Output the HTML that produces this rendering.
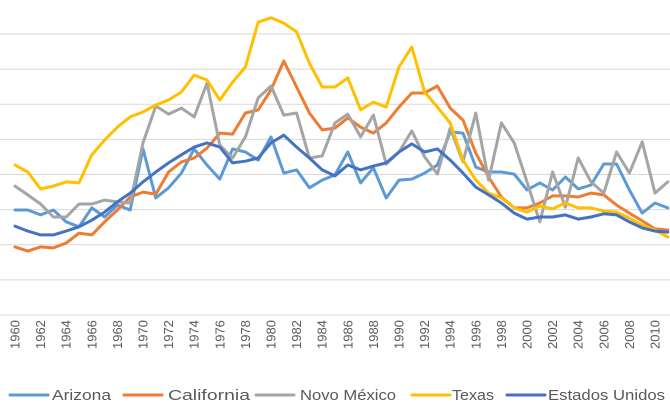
<!DOCTYPE html>
<html><head><meta charset="utf-8"><style>
html,body{margin:0;padding:0;background:#fff;}
svg{display:block;font-family:"Liberation Sans",Arial,sans-serif;}
</style></head><body>
<svg id="chart" width="670" height="404" viewBox="0 0 670 404" xmlns="http://www.w3.org/2000/svg">
<g id="grid"></g>
<g id="xlabels"></g>
<g id="series"></g>
<g id="legend"></g>
</svg>
<script>
const startYear = 1960;
const endYear = 2011;
const seriesNames = ["Arizona","California","Novo México","Texas","Estados Unidos"];
const seriesColors = ["#5b9bd5","#ed7d31","#a5a5a5","#ffc000","#4472c4"];
const arizona = [29.9,29.9,28.5,29.9,26.5,25.1,30.5,27.9,31.3,29.9,47.3,33.3,36.2,40.4,47.3,42.7,38.7,47.3,46.4,44.1,50.7,40.4,41.3,36.2,38.4,39.9,46.4,37.6,41.9,33.3,38.4,38.7,40.4,42.7,52.1,51.8,42.1,40.7,40.7,40.1,35.6,37.6,35.6,39.3,35.9,37.0,43.0,43.0,35.6,29.0,31.9,30.5];
const california = [19.4,18.2,19.4,19.1,20.5,23.3,22.8,26.5,29.9,33.6,35.0,34.4,40.7,43.6,44.7,47.5,51.8,51.5,57.5,58.4,64.1,72.3,64.9,57.5,52.7,53.2,56.1,53.5,51.8,54.7,59.2,63.2,63.2,65.2,58.9,55.5,46.1,39.3,33.6,30.5,30.5,31.9,33.9,33.9,33.6,34.7,34.2,31.3,29.0,26.8,24.5,24.2];
const novoMexico = [36.7,34.2,31.6,27.9,27.9,31.6,31.6,32.7,32.2,31.9,49.0,59.5,57.2,58.9,56.4,66.0,48.4,44.7,50.7,61.8,65.2,56.9,57.5,44.7,45.3,54.7,57.2,50.7,56.9,43.0,46.4,52.4,45.0,40.1,53.2,43.6,57.5,38.4,54.7,49.0,37.9,26.5,40.7,30.7,44.7,37.9,34.7,46.4,40.4,49.3,34.7,37.9];
const texas = [42.7,40.7,35.9,36.7,37.9,37.6,45.6,49.8,53.5,56.4,57.8,59.8,61.2,63.5,68.3,66.9,61.2,66.3,70.6,83.4,84.6,83.1,80.6,71.7,64.9,64.9,67.5,58.4,60.6,59.2,70.6,76.3,63.5,59.2,54.7,44.1,38.4,34.7,33.3,30.5,29.3,31.0,30.2,31.9,30.5,30.5,29.6,29.3,27.6,25.6,24.2,22.2];
const estadosUnidos = [25.3,23.9,22.8,22.8,23.9,25.1,27.0,29.3,32.2,34.7,37.9,40.7,43.3,45.6,47.8,49.0,47.8,43.3,43.8,44.7,49.0,51.2,47.8,44.7,41.3,39.6,42.7,41.3,42.4,43.3,46.4,48.7,46.4,47.3,44.1,40.4,36.4,34.2,31.9,29.0,27.3,27.9,27.9,28.5,27.3,27.9,28.8,28.5,26.5,24.8,23.9,23.6];
const gridValues = [0,10,20,30,40,50,60,70,80];

const NS = "http://www.w3.org/2000/svg";
const yMin = 0, yMax = 80, yBottom = 315, yTop = 34;
const xLeft = 15, xStep = 12.8;
function xScale(i){ return xLeft + xStep * i; }
function yScale(v){ return yBottom - (v - yMin) / (yMax - yMin) * (yBottom - yTop); }

const grid = document.getElementById('grid');
gridValues.forEach(v => {
  const l = document.createElementNS(NS,'line');
  
  
  l.setAttribute('x1', 0); l.setAttribute('x2', 670);
  l.setAttribute('y1', yScale(v)); l.setAttribute('y2', yScale(v));
  l.setAttribute('stroke', '#d9d9d9'); l.setAttribute('stroke-width', 1);
  grid.appendChild(l);
});

const xl = document.getElementById('xlabels');
for (let yr = startYear; yr <= endYear; yr += 2) {
  const i = yr - startYear;
  const t = document.createElementNS(NS,'text');
  
  
  const x = xScale(i) + 4.5, y = 349;
  t.setAttribute('x', x); t.setAttribute('y', y);
  t.setAttribute('transform', 'rotate(-90 ' + x + ' ' + y + ')');
  t.setAttribute('font-size', '13');
  t.setAttribute('fill', '#595959');
  t.textContent = String(yr);
  xl.appendChild(t);
}

const allSeries = [arizona, california, novoMexico, texas, estadosUnidos];
const seriesKeys = ['arizona','california','novo-mexico','texas','estados-unidos'];
const sg = document.getElementById('series');
allSeries.forEach((data, s) => {
  const p = document.createElementNS(NS,'polyline');
  
  
  p.setAttribute('points', data.map((v,i) => xScale(i).toFixed(1) + ',' + yScale(v).toFixed(1)).join(' '));
  p.setAttribute('fill', 'none');
  p.setAttribute('stroke', seriesColors[s]);
  p.setAttribute('stroke-width', '3');
  p.setAttribute('stroke-linejoin', 'round');
  p.setAttribute('stroke-linecap', 'round');
  sg.appendChild(p);
});

const legendSwatchX = [10, 124, 256, 412, 507];
const legendTextX = [52, 168, 300, 452, 548];
const legendTextW = [59, 82, 96, 42, 117];
const lg = document.getElementById('legend');
seriesNames.forEach((name, s) => {
  const g = document.createElementNS(NS,'g');
  
  
  const l = document.createElementNS(NS,'line');
  
  
  l.setAttribute('x1', legendSwatchX[s]); l.setAttribute('x2', legendSwatchX[s] + 38);
  l.setAttribute('y1', 395); l.setAttribute('y2', 395);
  l.setAttribute('stroke', seriesColors[s]); l.setAttribute('stroke-width', 3);
  l.setAttribute('stroke-linecap', 'round');
  g.appendChild(l);
  const t = document.createElementNS(NS,'text');
  
  
  t.setAttribute('x', legendTextX[s]); t.setAttribute('y', 400);
  t.setAttribute('font-size', '15');
  t.setAttribute('fill', '#595959');
  t.setAttribute('textLength', legendTextW[s]);
  t.setAttribute('lengthAdjust', 'spacingAndGlyphs');
  t.textContent = name;
  g.appendChild(t);
  lg.appendChild(g);
});
</script>
</body></html>
